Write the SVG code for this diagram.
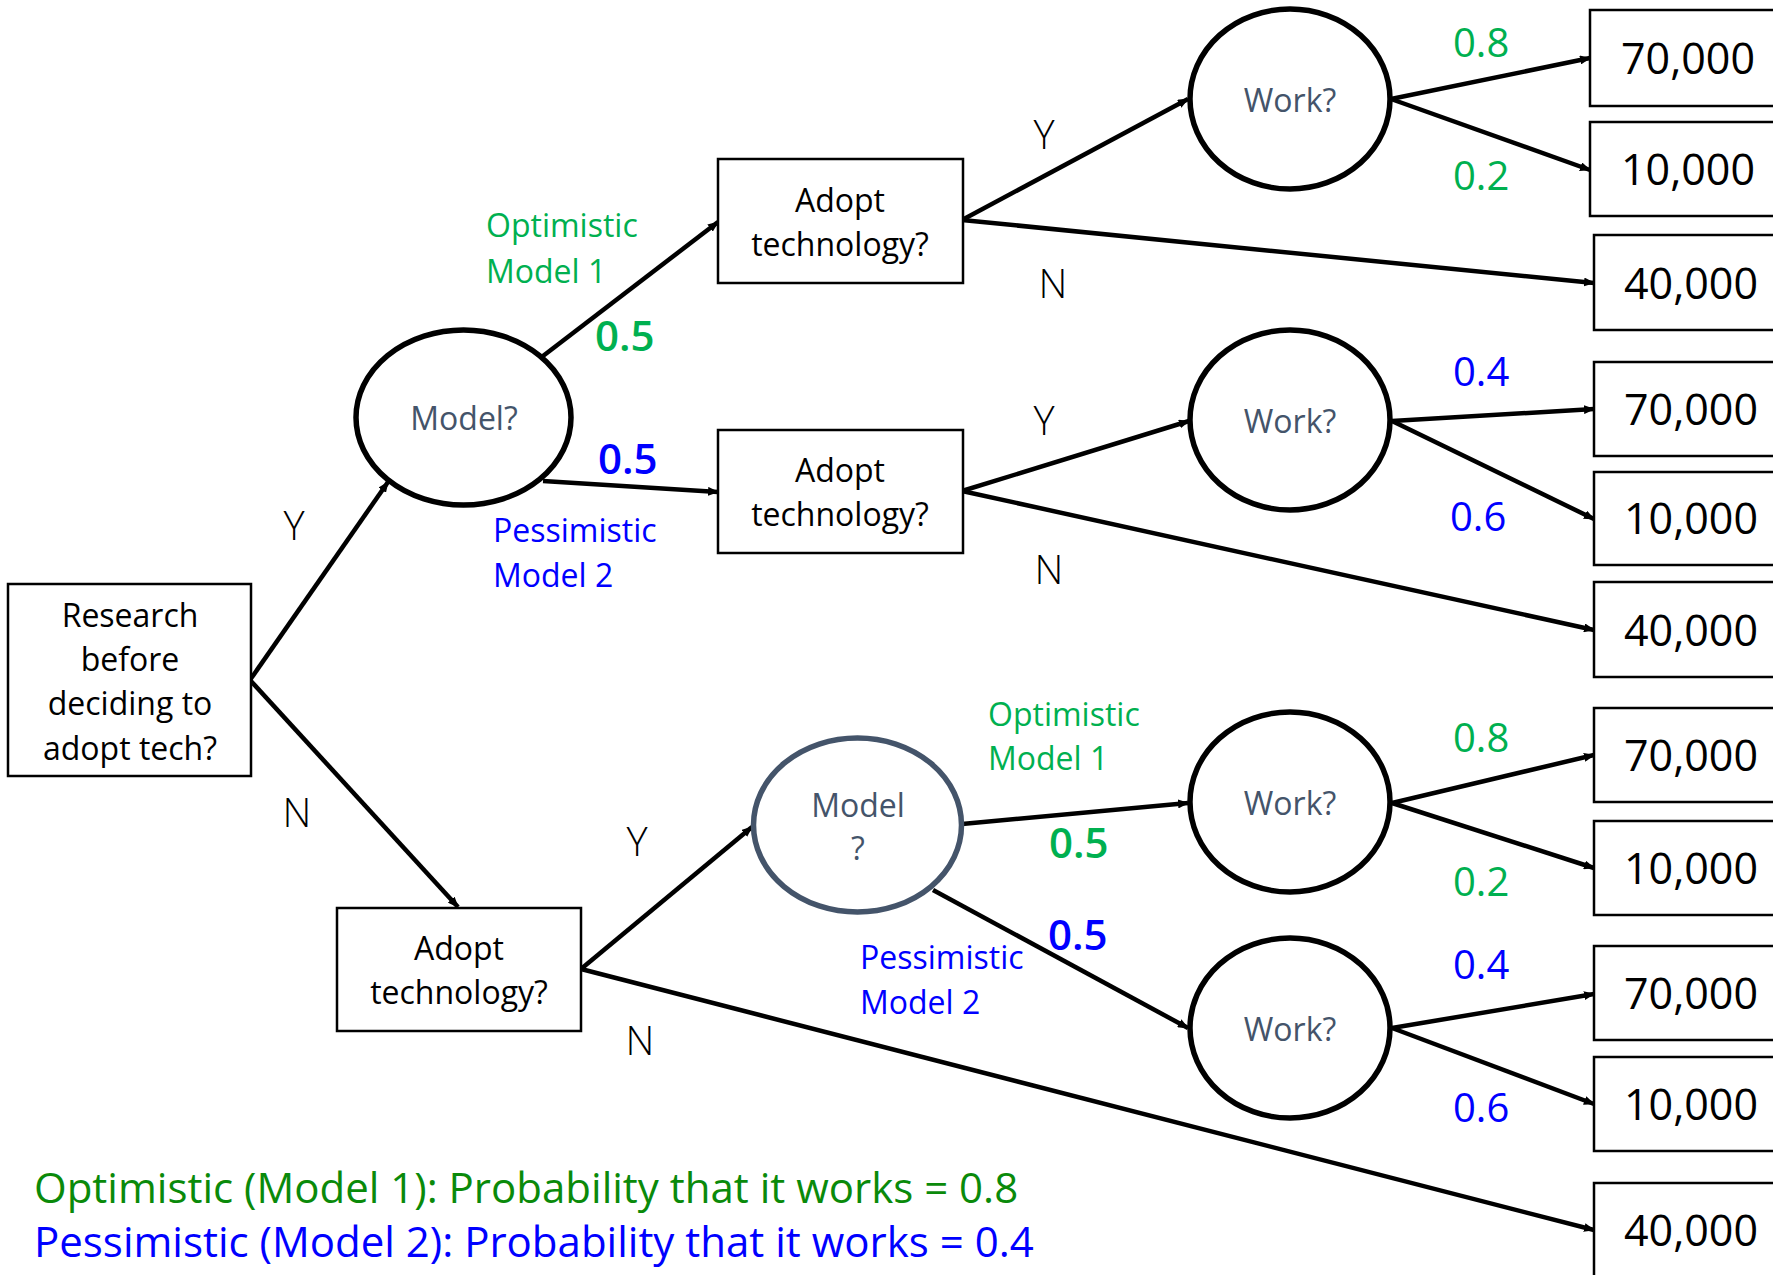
<svg xmlns="http://www.w3.org/2000/svg" width="1773" height="1275" viewBox="0 0 1773 1275">
  <style>
    text { font-family: "Open Sans", "Noto Sans", "Liberation Sans", sans-serif; font-weight: 400; }
    .box { fill: #ffffff; stroke: #000000; stroke-width: 2.5; }
    .chance { fill: #ffffff; stroke: #000000; stroke-width: 5.5; }
    .chance2 { fill: #ffffff; stroke: #44546A; stroke-width: 5.5; }
    .lbl { font-size: 32px; fill: #000000; text-anchor: middle; }
    .nlbl { font-size: 32px; fill: #44546A; text-anchor: middle; }
    .val { font-size: 43px; fill: #000000; text-anchor: middle; }
    .yn { font-size: 40px; font-weight: 300; fill: #000000; text-anchor: middle; }
    .g { fill: #00B050; }
    .b { fill: #0000FF; }
    .prob { font-size: 40px; }
    .half { font-size: 42px; font-weight: 600; }
    .desc { font-size: 32px; }
    .legend { font-size: 42px; }
    .edge { stroke: #000000; stroke-width: 4.5; fill: none; marker-end: url(#arrow); }
  </style>
  <defs>
    <marker id="arrow" markerUnits="userSpaceOnUse" markerWidth="11" markerHeight="9" refX="10" refY="4.5" orient="auto">
      <path d="M0,0 L11,4.5 L0,9 z" fill="#000000"/>
    </marker>
  </defs>
  <rect width="1773" height="1275" fill="#ffffff"/>

  <!-- branches -->
  <g id="connectors">
    <line class="edge" x1="250" y1="680" x2="388" y2="482"/>
    <line class="edge" x1="250" y1="680" x2="458" y2="907"/>
    <line class="edge" x1="543" y1="356" x2="718" y2="222"/>
    <line class="edge" x1="543" y1="481" x2="718" y2="492"/>
    <line class="edge" x1="962" y1="220" x2="1188" y2="99"/>
    <line class="edge" x1="962" y1="220" x2="1594" y2="283"/>
    <line class="edge" x1="1391" y1="99" x2="1590" y2="58"/>
    <line class="edge" x1="1391" y1="99" x2="1590" y2="170"/>
    <line class="edge" x1="962" y1="491" x2="1189" y2="421"/>
    <line class="edge" x1="962" y1="491" x2="1594" y2="630"/>
    <line class="edge" x1="1392" y1="421" x2="1594" y2="409"/>
    <line class="edge" x1="1392" y1="421" x2="1594" y2="519"/>
    <line class="edge" x1="581" y1="969" x2="752" y2="827"/>
    <line class="edge" x1="581" y1="969" x2="1594" y2="1230"/>
    <line class="edge" x1="962" y1="824" x2="1188" y2="803"/>
    <line class="edge" x1="933" y1="890" x2="1188" y2="1028"/>
    <line class="edge" x1="1392" y1="803" x2="1594" y2="755"/>
    <line class="edge" x1="1392" y1="803" x2="1594" y2="868"/>
    <line class="edge" x1="1392" y1="1028" x2="1594" y2="994"/>
    <line class="edge" x1="1392" y1="1028" x2="1594" y2="1104"/>
  </g>

  <!-- decision nodes -->
  <g id="research">
    <rect class="box" x="8" y="584" width="243" height="192"/>
    <text class="lbl" font-size="31" x="130" y="627">Research</text>
    <text class="lbl" font-size="31" x="130" y="671">before</text>
    <text class="lbl" font-size="31" x="130" y="715">deciding to</text>
    <text class="lbl" font-size="31" x="130" y="760">adopt tech?</text>
  </g>
  <g id="adopt-1">
    <rect class="box" x="718" y="159" width="245" height="124"/>
    <text class="lbl" x="840" y="212">Adopt</text>
    <text class="lbl" x="840" y="256">technology?</text>
  </g>
  <g id="adopt-2">
    <rect class="box" x="718" y="430" width="245" height="123"/>
    <text class="lbl" x="840" y="482">Adopt</text>
    <text class="lbl" x="840" y="526">technology?</text>
  </g>
  <g id="adopt-3">
    <rect class="box" x="337" y="908" width="244" height="123"/>
    <text class="lbl" x="459" y="960">Adopt</text>
    <text class="lbl" x="459" y="1004">technology?</text>
  </g>

  <!-- chance nodes -->
  <g id="model-1">
    <ellipse class="chance" cx="463.5" cy="417.5" rx="107.5" ry="87.5"/>
    <text class="nlbl" x="464" y="430">Model?</text>
  </g>
  <g id="model-2">
    <ellipse class="chance2" cx="857.5" cy="825" rx="104" ry="87"/>
    <text class="nlbl" x="858" y="817">Model</text>
    <text class="nlbl" x="858" y="860">?</text>
  </g>
  <g id="work-1">
    <ellipse class="chance" cx="1290" cy="99" rx="100" ry="90"/>
    <text class="nlbl" x="1290" y="112">Work?</text>
  </g>
  <g id="work-2">
    <ellipse class="chance" cx="1290" cy="420" rx="100" ry="90"/>
    <text class="nlbl" x="1290" y="433">Work?</text>
  </g>
  <g id="work-3">
    <ellipse class="chance" cx="1290" cy="802" rx="100" ry="90"/>
    <text class="nlbl" x="1290" y="815">Work?</text>
  </g>
  <g id="work-4">
    <ellipse class="chance" cx="1290" cy="1028" rx="100" ry="90"/>
    <text class="nlbl" x="1290" y="1041">Work?</text>
  </g>

  <!-- payoffs -->
  <g id="payoff-1"><rect class="box" x="1590" y="10" width="200" height="96"/><text class="val" x="1688" y="74">70,000</text></g>
  <g id="payoff-2"><rect class="box" x="1590" y="122" width="200" height="94"/><text class="val" x="1688" y="185">10,000</text></g>
  <g id="payoff-3"><rect class="box" x="1594" y="235" width="200" height="95"/><text class="val" x="1691" y="299">40,000</text></g>
  <g id="payoff-4"><rect class="box" x="1594" y="362" width="200" height="94"/><text class="val" x="1691" y="425">70,000</text></g>
  <g id="payoff-5"><rect class="box" x="1594" y="472" width="200" height="93"/><text class="val" x="1691" y="534">10,000</text></g>
  <g id="payoff-6"><rect class="box" x="1594" y="582" width="200" height="95"/><text class="val" x="1691" y="646">40,000</text></g>
  <g id="payoff-7"><rect class="box" x="1594" y="708" width="200" height="94"/><text class="val" x="1691" y="771">70,000</text></g>
  <g id="payoff-8"><rect class="box" x="1594" y="821" width="200" height="94"/><text class="val" x="1691" y="884">10,000</text></g>
  <g id="payoff-9"><rect class="box" x="1594" y="946" width="200" height="94"/><text class="val" x="1691" y="1009">70,000</text></g>
  <g id="payoff-10"><rect class="box" x="1594" y="1057" width="200" height="94"/><text class="val" x="1691" y="1120">10,000</text></g>
  <g id="payoff-11"><rect class="box" x="1594" y="1183" width="200" height="96"/><text class="val" x="1691" y="1246">40,000</text></g>

  <!-- branch labels -->
  <g id="branch-labels">
    <text class="yn" x="294" y="540">Y</text>
    <text class="yn" x="297" y="827">N</text>
    <text class="yn" x="1044" y="149">Y</text>
    <text class="yn" x="1053" y="298">N</text>
    <text class="yn" x="1044" y="435">Y</text>
    <text class="yn" x="1049" y="584">N</text>
    <text class="yn" x="637" y="856">Y</text>
    <text class="yn" x="640" y="1055">N</text>

    <text class="desc g" x="486" y="237">Optimistic</text>
    <text class="desc g" x="486" y="283">Model 1</text>
    <text class="half g" x="595" y="351">0.5</text>
    <text class="half b" x="598" y="474">0.5</text>
    <text class="desc b" x="493" y="542">Pessimistic</text>
    <text class="desc b" x="493" y="587">Model 2</text>

    <text class="desc g" x="988" y="726">Optimistic</text>
    <text class="desc g" x="988" y="770">Model 1</text>
    <text class="half g" x="1049" y="858">0.5</text>
    <text class="half b" x="1048" y="950">0.5</text>
    <text class="desc b" x="860" y="969">Pessimistic</text>
    <text class="desc b" x="860" y="1014">Model 2</text>

    <text class="prob g" x="1453" y="57">0.8</text>
    <text class="prob g" x="1453" y="190">0.2</text>
    <text class="prob b" x="1453" y="386">0.4</text>
    <text class="prob b" x="1450" y="531">0.6</text>
    <text class="prob g" x="1453" y="752">0.8</text>
    <text class="prob g" x="1453" y="896">0.2</text>
    <text class="prob b" x="1453" y="979">0.4</text>
    <text class="prob b" x="1453" y="1122">0.6</text>
  </g>

  <!-- key -->
  <g id="legend">
    <text class="legend" x="34" y="1203" fill="#0A8A0A">Optimistic (Model 1): Probability that it works = 0.8</text>
    <text class="legend" x="34" y="1257" fill="#0000FF">Pessimistic (Model 2): Probability that it works = 0.4</text>
  </g>
</svg>
